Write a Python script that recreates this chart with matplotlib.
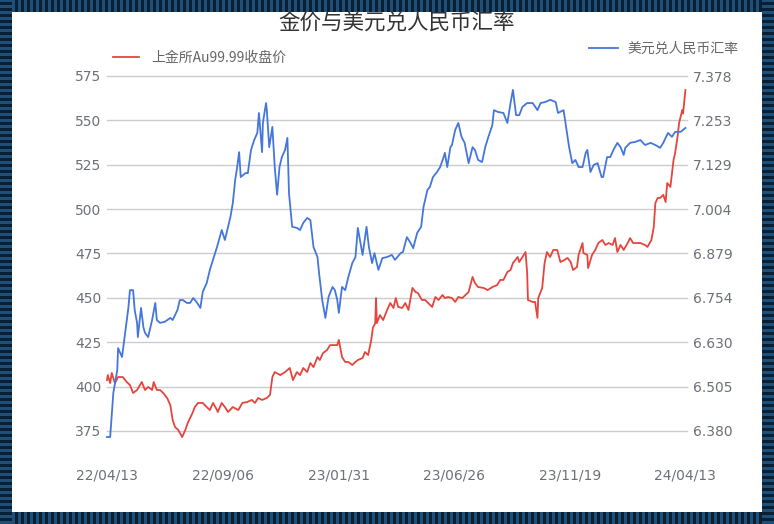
import matplotlib.pyplot as plt
import matplotlib.dates as mdates
from matplotlib.patches import Rectangle
import pandas as pd

plt.rcParams['font.family'] = ['Noto Sans CJK SC', 'DejaVu Sans']

start = pd.Timestamp('2022-04-13')

# 美元兑人民币汇率 (days since start, rate)
usd_days = [0, 4, 8, 13, 14, 19, 23, 27, 29, 33, 35, 38, 39, 43, 46, 48, 52, 57, 61, 63,
            67, 73, 80, 83, 89, 92, 96, 101, 105, 109, 114, 118, 121, 126, 130, 134, 139, 145, 149, 153,
            156, 159, 162, 164, 167, 169, 175, 178, 182, 186, 190, 192, 196, 197, 201, 202, 205, 209, 212, 215,
            218, 221, 225, 228, 230, 234, 240, 244, 248, 253, 257, 261, 266, 268, 272, 276, 280, 285, 288, 291,
            293, 297, 301, 305, 310, 314, 317, 323, 328, 331, 335, 338, 343, 348, 354, 360, 364, 371, 374, 379,
            383, 387, 392, 397, 400, 405, 408, 412, 417, 421, 425, 427, 430, 434, 436, 440, 444, 448, 452, 457,
            462, 465, 469, 474, 478, 482, 487, 489, 494, 501, 506, 510, 513, 517, 521, 525, 531, 538, 544, 548,
            554, 560, 567, 570, 577, 582, 584, 588, 592, 596, 601, 605, 607, 611, 615, 620, 625, 627, 632, 636,
            640, 645, 649, 653, 655, 661, 668, 674, 680, 687, 693, 699, 703, 709, 714, 718, 725, 731]
usd_rate = [6.363, 6.363, 6.487, 6.552, 6.613, 6.588, 6.656, 6.726, 6.776, 6.776, 6.720, 6.684, 6.644, 6.726, 6.672, 6.656, 6.644, 6.692, 6.740, 6.692,
            6.684, 6.687, 6.698, 6.692, 6.720, 6.748, 6.748, 6.740, 6.740, 6.754, 6.740, 6.726, 6.771, 6.796, 6.833, 6.861, 6.897, 6.945, 6.917, 6.954,
            6.982, 7.021, 7.086, 7.114, 7.164, 7.094, 7.105, 7.105, 7.170, 7.198, 7.218, 7.274, 7.164, 7.246, 7.302, 7.282, 7.178, 7.235, 7.122, 7.044,
            7.122, 7.150, 7.170, 7.204, 7.049, 6.954, 6.951, 6.945, 6.965, 6.979, 6.973, 6.897, 6.869, 6.824, 6.748, 6.698, 6.757, 6.785, 6.776, 6.748,
            6.712, 6.785, 6.776, 6.813, 6.852, 6.869, 6.951, 6.875, 6.954, 6.897, 6.852, 6.880, 6.833, 6.866, 6.869, 6.875, 6.861, 6.880, 6.883, 6.925,
            6.911, 6.894, 6.937, 6.954, 7.010, 7.058, 7.066, 7.094, 7.108, 7.122, 7.147, 7.162, 7.122, 7.178, 7.184, 7.226, 7.246, 7.207, 7.190, 7.133,
            7.178, 7.170, 7.142, 7.136, 7.178, 7.207, 7.240, 7.282, 7.277, 7.274, 7.246, 7.302, 7.339, 7.268, 7.268, 7.291, 7.302, 7.302, 7.282, 7.302,
            7.305, 7.311, 7.305, 7.274, 7.282, 7.207, 7.178, 7.133, 7.142, 7.122, 7.122, 7.162, 7.170, 7.108, 7.128, 7.133, 7.094, 7.094, 7.150, 7.150,
            7.170, 7.190, 7.178, 7.156, 7.176, 7.190, 7.193, 7.198, 7.184, 7.190, 7.184, 7.176, 7.190, 7.218, 7.207, 7.221, 7.221, 7.232]

# 上金所Au99.99收盘价 (days since start, price)
gold_days = [0, 1, 4, 6, 10, 14, 20, 25, 29, 33, 38, 44, 48, 52, 57, 59, 63, 67, 71, 76,
             80, 83, 86, 90, 95, 99, 102, 108, 111, 115, 121, 126, 130, 134, 139, 140, 145, 149, 153, 159,
             166, 171, 177, 183, 187, 191, 196, 202, 206, 209, 212, 219, 225, 231, 235, 240, 244, 248, 253, 257,
             261, 266, 269, 273, 278, 282, 291, 293, 297, 301, 305, 310, 314, 317, 323, 326, 330, 334, 336, 339,
             340, 341, 345, 349, 354, 358, 362, 365, 368, 373, 377, 381, 386, 390, 393, 398, 402, 406, 411, 415,
             419, 424, 427, 431, 436, 440, 444, 449, 453, 457, 462, 465, 469, 476, 481, 487, 493, 497, 501, 506,
             510, 513, 519, 521, 525, 529, 531, 532, 538, 541, 544, 545, 550, 553, 556, 560, 564, 569, 573, 578,
             582, 586, 589, 594, 596, 601, 602, 607, 608, 613, 617, 621, 626, 630, 634, 639, 642, 645, 649, 653,
             658, 661, 665, 674, 680, 683, 688, 691, 693, 696, 699, 703, 706, 708, 712, 716, 718, 721, 723, 727,
             728, 731]
gold_price = [403.7, 406.5, 402.0, 407.7, 402.0, 405.4, 405.4, 402.6, 400.9, 396.4, 398.1, 402.6, 398.1, 399.8, 398.1, 402.6, 398.1, 398.1, 396.4, 393.6,
              389.6, 381.2, 377.2, 375.6, 371.6, 375.6, 379.5, 385.1, 388.5, 390.8, 390.8, 388.5, 386.8, 390.8, 386.8, 385.7, 390.8, 388.5, 385.7, 388.5,
              386.8, 390.8, 391.3, 392.5, 390.8, 393.6, 392.5, 393.6, 395.3, 405.4, 408.2, 406.5, 408.2, 410.5, 403.7, 408.2, 406.5, 410.5, 408.2, 413.3,
              411.0, 416.7, 415.0, 418.9, 420.6, 423.4, 423.4, 426.3, 416.7, 413.9, 413.9, 412.2, 413.9, 415.0, 416.1, 419.5, 417.8, 426.3, 433.0, 435.8,
              449.9, 435.8, 440.3, 437.5, 443.2, 447.1, 444.3, 449.9, 444.9, 444.3, 447.1, 443.2, 455.6, 453.3, 452.7, 448.8, 448.8, 447.1, 444.9, 450.5,
              448.8, 451.6, 449.9, 450.5, 449.9, 447.7, 450.5, 449.9, 451.6, 453.3, 461.8, 458.4, 456.1, 455.6, 454.4, 456.1, 457.2, 460.1, 460.1, 464.6,
              465.7, 469.6, 473.0, 470.2, 473.0, 475.8, 464.0, 448.8, 447.7, 447.7, 438.7, 449.9, 455.6, 469.6, 475.8, 473.0, 477.0, 477.0, 470.2, 471.3,
              472.5, 470.2, 465.7, 467.4, 474.2, 480.9, 475.3, 474.2, 466.8, 474.2, 477.0, 480.9, 482.6, 479.8, 480.9, 479.8, 483.7, 475.8, 479.8, 477.0,
              480.9, 483.7, 480.9, 480.9, 479.8, 478.7, 482.6, 489.9, 503.4, 506.3, 506.3, 508.0, 504.0, 514.7, 512.5, 527.7, 531.6, 540.6, 548.5, 555.8,
              553.8, 567.1]

left_ticks = [375, 400, 425, 450, 475, 500, 525, 550, 575]
right_ticks = ['6.380', '6.505', '6.630', '6.754', '6.879', '7.004', '7.129', '7.253', '7.378']
date_ticks = ['2022-04-13', '2022-09-06', '2023-01-31', '2023-06-26', '2023-11-19', '2024-04-13']

W, H = 774, 524
fig = plt.figure(figsize=(W / 100, H / 100), dpi=100, facecolor='#0b1f33')

# striped frame
for x in range(0, W, 6):
    fig.add_artist(Rectangle((x / W, 0), 3 / W, 1, transform=fig.transFigure,
                             color='#1d4f78', lw=0, zorder=0))
for y in range(0, H, 6):
    fig.add_artist(Rectangle((0, y / H), 12 / W, 3 / H, transform=fig.transFigure,
                             color='#1d4f78', lw=0, zorder=0.5))
    fig.add_artist(Rectangle((762 / W, y / H), 12 / W, 3 / H, transform=fig.transFigure,
                             color='#1d4f78', lw=0, zorder=0.5))
fig.add_artist(Rectangle((0, 0), 12 / W, 1, transform=fig.transFigure, color='#0b1f33', lw=0, zorder=0.2))
fig.add_artist(Rectangle((762 / W, 0), 12 / W, 1, transform=fig.transFigure, color='#0b1f33', lw=0, zorder=0.2))
fig.add_artist(Rectangle((12 / W, 12 / H), 750 / W, 500 / H, transform=fig.transFigure,
                         color='white', lw=0, zorder=1))

ax = fig.add_axes([107 / W, (H - 431) / H, 580 / W, 355 / H])
ax.set_zorder(2)
ax.patch.set_visible(False)
ax2 = ax.twinx()

xs_gold = start + pd.to_timedelta(gold_days, unit='D')
xs_usd = start + pd.to_timedelta(usd_days, unit='D')

red, = ax.plot(xs_gold, gold_price, color='#e5453c', lw=1.3, clip_on=False, label='上金所Au99.99收盘价')
blue, = ax2.plot(xs_usd, usd_rate, color='#4476dc', lw=1.3, clip_on=False, label='美元兑人民币汇率')

ax.set_ylim(375, 575)
ax.set_yticks(left_ticks)
ax2.set_ylim(6.380, 7.378)
ax2.set_yticks([float(t) for t in right_ticks])
ax2.set_yticklabels(right_ticks)

ax.set_xlim(start, start + pd.Timedelta(days=733))
ax.set_xticks(pd.to_datetime(date_ticks))
ax.xaxis.set_major_formatter(mdates.DateFormatter('%y/%m/%d'))

ax.grid(axis='y', color='#cccccc', lw=1)
for gl in ax.get_ygridlines():
    gl.set_clip_on(False)
for a in (ax, ax2):
    for s in a.spines.values():
        s.set_visible(False)
    a.tick_params(length=0, labelsize=10, colors='#6e7079', labelfontfamily='DejaVu Sans')
ax.tick_params(axis='y', pad=4)
ax2.tick_params(axis='y', pad=4)
ax.tick_params(axis='x', pad=27)

fig.text(397 / W, 1 - 23 / H, '金价与美元兑人民币汇率', ha='center', va='center',
         fontsize=15.5, color='#333333', zorder=3)

leg1 = fig.legend(handles=[red], loc='center left', bbox_to_anchor=(113 / W, 1 - 58 / H),
                  frameon=False, fontsize=10, handlelength=1.9, handletextpad=0.85,
                  borderpad=0, borderaxespad=0, labelcolor='#666666')
leg2 = fig.legend(handles=[blue], loc='center left', bbox_to_anchor=(589 / W, 1 - 49 / H),
                  frameon=False, fontsize=10, handlelength=2.1, handletextpad=0.7,
                  borderpad=0, borderaxespad=0, labelcolor='#666666')
leg1.set_zorder(3)
leg2.set_zorder(3)

fig.savefig('out.png', dpi=100)
